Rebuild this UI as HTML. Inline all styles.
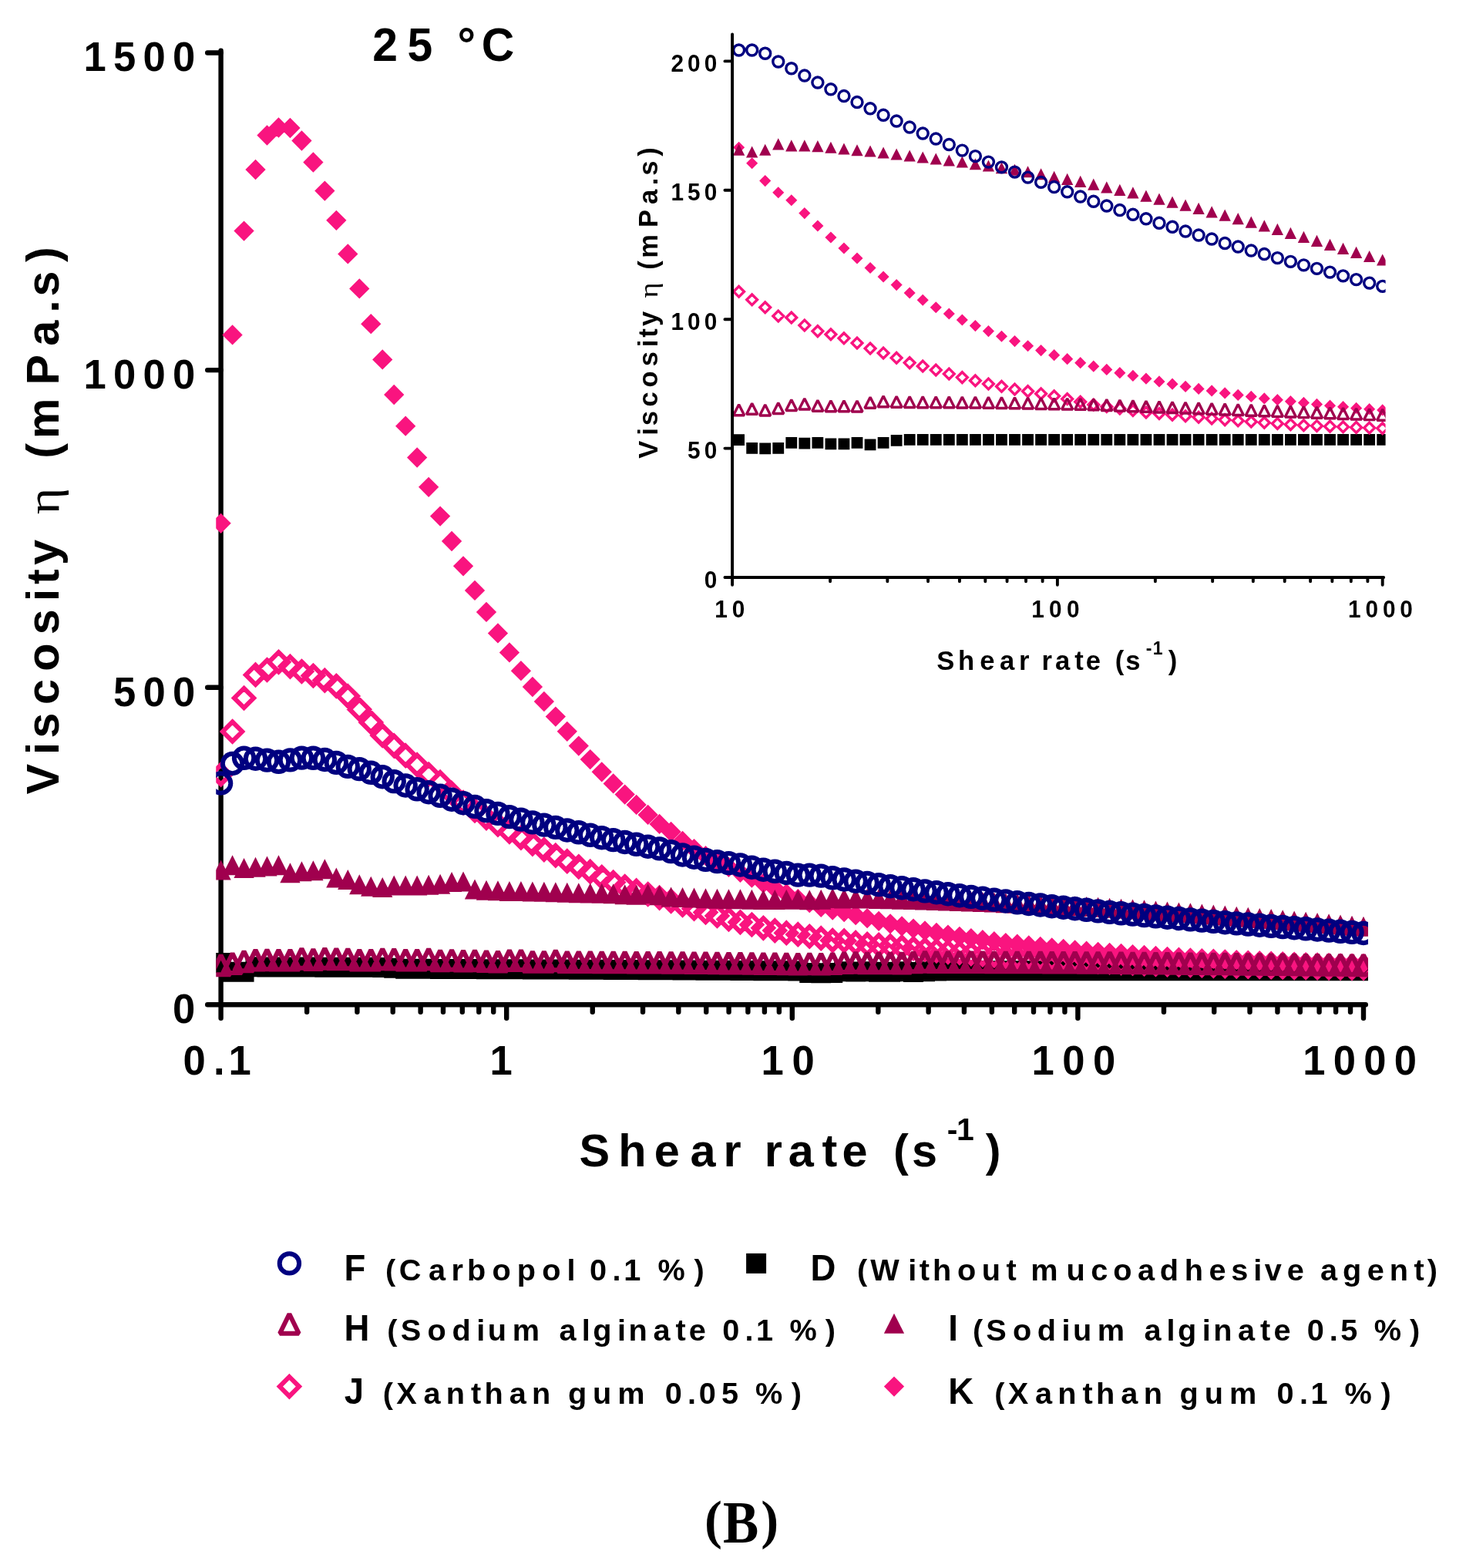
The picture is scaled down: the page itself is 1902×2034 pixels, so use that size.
<!DOCTYPE html>
<html lang="en"><head><meta charset="utf-8"><title>Viscosity vs shear rate (B)</title><style>html,body{margin:0;padding:0;background:#fff}body{width:1902px;height:2034px;overflow:hidden}svg{display:block}</style></head><body>
<svg width="1902" height="2034" viewBox="0 0 1902 2034" role="img" aria-label="Viscosity versus shear rate at 25 degrees C">
<style>text{font-family:"Liberation Sans",sans-serif;font-weight:bold;fill:#000;white-space:pre}.t-serifb{font-family:"Liberation Serif",serif;font-weight:bold}.ax{stroke:#000;fill:none;stroke-linecap:round}</style>
<rect width="1902" height="2034" fill="#fff"/>
<g class="ax" id="main-axes">
<path stroke-width="6.4" d="M286.6 65.7V1320.7"/>
<path stroke-width="6.4" d="M286.6 1303.3H1771.8"/>
<path stroke-width="6.4" d="M398.16 1303.3v9.5M463.42 1303.3v9.5M509.72 1303.3v9.5M545.64 1303.3v9.5M574.98 1303.3v9.5M599.79 1303.3v9.5M621.29 1303.3v9.5M640.24 1303.3v9.5M657.2 1303.3v17.4M768.76 1303.3v9.5M834.02 1303.3v9.5M880.32 1303.3v9.5M916.24 1303.3v9.5M945.58 1303.3v9.5M970.39 1303.3v9.5M991.89 1303.3v9.5M1010.84 1303.3v9.5M1027.8 1303.3v17.4M1139.36 1303.3v9.5M1204.62 1303.3v9.5M1250.92 1303.3v9.5M1286.84 1303.3v9.5M1316.18 1303.3v9.5M1340.99 1303.3v9.5M1362.49 1303.3v9.5M1381.44 1303.3v9.5M1398.4 1303.3v17.4M1509.96 1303.3v9.5M1575.22 1303.3v9.5M1621.52 1303.3v9.5M1657.44 1303.3v9.5M1686.78 1303.3v9.5M1711.59 1303.3v9.5M1733.09 1303.3v9.5M1752.04 1303.3v9.5M1769 1303.3v17.4M286.6 1303.3h-17.4M286.6 891.7h-17.4M286.6 480.1h-17.4M286.6 68.5h-17.4"/>
</g>
<clipPath id="cm"><rect x="280.25" y="0" width="1494.75" height="1306.3"/></clipPath>
<clipPath id="ci"><rect x="946.6" y="0" width="851" height="752"/></clipPath>
<g clip-path="url(#cm)" id="main-data">
<path d="M273.6 1235.89h26v26h-26zM288.57 1247.82h26v26h-26zM303.55 1247.82h26v26h-26zM318.52 1241.32h26v26h-26zM333.49 1241.38h26v26h-26zM348.47 1241.44h26v26h-26zM363.44 1241.5h26v26h-26zM378.42 1241.55h26v26h-26zM393.39 1241.61h26v26h-26zM408.36 1241.67h26v26h-26zM423.34 1241.73h26v26h-26zM438.31 1241.77h26v26h-26zM453.28 1241.81h26v26h-26zM468.26 1241.85h26v26h-26zM483.23 1241.9h26v26h-26zM498.21 1242.8h26v26h-26zM513.18 1243.79h26v26h-26zM528.15 1243.83h26v26h-26zM543.13 1243.87h26v26h-26zM558.1 1243.91h26v26h-26zM573.07 1243.95h26v26h-26zM588.05 1244.02h26v26h-26zM603.02 1244.09h26v26h-26zM618 1244.15h26v26h-26zM632.97 1244.22h26v26h-26zM647.94 1244.28h26v26h-26zM662.92 1244.35h26v26h-26zM677.89 1244.41h26v26h-26zM692.86 1244.48h26v26h-26zM707.84 1244.55h26v26h-26zM722.81 1244.61h26v26h-26zM737.79 1244.69h26v26h-26zM752.76 1244.78h26v26h-26zM767.73 1244.86h26v26h-26zM782.71 1244.94h26v26h-26zM797.68 1245.02h26v26h-26zM812.65 1245.11h26v26h-26zM827.63 1245.19h26v26h-26zM842.6 1245.27h26v26h-26zM857.58 1245.35h26v26h-26zM872.55 1245.44h26v26h-26zM887.52 1245.54h26v26h-26zM902.5 1245.64h26v26h-26zM917.47 1245.74h26v26h-26zM932.44 1245.84h26v26h-26zM947.42 1245.94h26v26h-26zM962.39 1246.04h26v26h-26zM977.37 1246.14h26v26h-26zM992.34 1246.24h26v26h-26zM1007.31 1246.34h26v26h-26zM1022.29 1246.43h26v26h-26zM1037.26 1249.07h26v26h-26zM1052.23 1249.19h26v26h-26zM1067.21 1249.07h26v26h-26zM1082.18 1247.35h26v26h-26zM1097.16 1247.53h26v26h-26zM1112.13 1247.35h26v26h-26zM1127.1 1247.72h26v26h-26zM1142.08 1247.72h26v26h-26zM1157.05 1247.35h26v26h-26zM1172.02 1247.96h26v26h-26zM1187 1247.35h26v26h-26zM1201.97 1246.61h26v26h-26zM1216.95 1246.36h26v26h-26zM1231.92 1246.36h26v26h-26zM1246.89 1246.36h26v26h-26zM1261.87 1246.36h26v26h-26zM1276.84 1246.36h26v26h-26zM1291.81 1246.36h26v26h-26zM1306.79 1246.36h26v26h-26zM1321.76 1246.36h26v26h-26zM1336.74 1246.36h26v26h-26zM1351.71 1246.36h26v26h-26zM1366.68 1246.36h26v26h-26zM1381.66 1246.36h26v26h-26zM1396.63 1246.36h26v26h-26zM1411.6 1246.36h26v26h-26zM1426.58 1246.36h26v26h-26zM1441.55 1246.36h26v26h-26zM1456.53 1246.36h26v26h-26zM1471.5 1246.36h26v26h-26zM1486.47 1246.36h26v26h-26zM1501.45 1246.36h26v26h-26zM1516.42 1246.36h26v26h-26zM1531.39 1246.36h26v26h-26zM1546.37 1246.36h26v26h-26zM1561.34 1246.36h26v26h-26zM1576.32 1246.36h26v26h-26zM1591.29 1246.36h26v26h-26zM1606.26 1246.36h26v26h-26zM1621.24 1246.36h26v26h-26zM1636.21 1246.36h26v26h-26zM1651.18 1246.36h26v26h-26zM1666.16 1246.36h26v26h-26zM1681.13 1246.36h26v26h-26zM1696.11 1246.36h26v26h-26zM1711.08 1246.36h26v26h-26zM1726.05 1246.36h26v26h-26zM1741.03 1246.36h26v26h-26zM1756 1246.36h26v26h-26z" fill="#000000"/>
<path d="M286.6 992.1l12.6 12.6l-12.6 12.6l-12.6 -12.6zM301.57 936.4l12.6 12.6l-12.6 12.6l-12.6 -12.6zM316.55 892.9l12.6 12.6l-12.6 12.6l-12.6 -12.6zM331.52 862.8l12.6 12.6l-12.6 12.6l-12.6 -12.6zM346.49 856.4l12.6 12.6l-12.6 12.6l-12.6 -12.6zM361.47 846.2l12.6 12.6l-12.6 12.6l-12.6 -12.6zM376.44 852l12.6 12.6l-12.6 12.6l-12.6 -12.6zM391.42 858.4l12.6 12.6l-12.6 12.6l-12.6 -12.6zM406.39 863.9l12.6 12.6l-12.6 12.6l-12.6 -12.6zM421.36 870l12.6 12.6l-12.6 12.6l-12.6 -12.6zM436.34 877.2l12.6 12.6l-12.6 12.6l-12.6 -12.6zM451.31 890.5l12.6 12.6l-12.6 12.6l-12.6 -12.6zM466.28 907.6l12.6 12.6l-12.6 12.6l-12.6 -12.6zM481.26 924.3l12.6 12.6l-12.6 12.6l-12.6 -12.6zM496.23 941.3l12.6 12.6l-12.6 12.6l-12.6 -12.6zM511.21 954.7l12.6 12.6l-12.6 12.6l-12.6 -12.6zM526.18 967.6l12.6 12.6l-12.6 12.6l-12.6 -12.6zM541.15 979.5l12.6 12.6l-12.6 12.6l-12.6 -12.6zM556.13 991.9l12.6 12.6l-12.6 12.6l-12.6 -12.6zM571.1 1002.1l12.6 12.6l-12.6 12.6l-12.6 -12.6zM586.07 1016.4l12.6 12.6l-12.6 12.6l-12.6 -12.6zM601.05 1028.6l12.6 12.6l-12.6 12.6l-12.6 -12.6zM616.02 1038.8l12.6 12.6l-12.6 12.6l-12.6 -12.6zM631 1048.5l12.6 12.6l-12.6 12.6l-12.6 -12.6zM645.97 1057.1l12.6 12.6l-12.6 12.6l-12.6 -12.6zM660.94 1066.4l12.6 12.6l-12.6 12.6l-12.6 -12.6zM675.92 1074.1l12.6 12.6l-12.6 12.6l-12.6 -12.6zM690.89 1082l12.6 12.6l-12.6 12.6l-12.6 -12.6zM705.86 1089.5l12.6 12.6l-12.6 12.6l-12.6 -12.6zM720.84 1097l12.6 12.6l-12.6 12.6l-12.6 -12.6zM735.81 1104.6l12.6 12.6l-12.6 12.6l-12.6 -12.6zM750.79 1111.7l12.6 12.6l-12.6 12.6l-12.6 -12.6zM765.76 1118.1l12.6 12.6l-12.6 12.6l-12.6 -12.6zM780.73 1125.2l12.6 12.6l-12.6 12.6l-12.6 -12.6zM795.71 1132l12.6 12.6l-12.6 12.6l-12.6 -12.6zM810.68 1137.4l12.6 12.6l-12.6 12.6l-12.6 -12.6zM825.65 1142.8l12.6 12.6l-12.6 12.6l-12.6 -12.6zM840.63 1147.4l12.6 12.6l-12.6 12.6l-12.6 -12.6zM855.6 1152l12.6 12.6l-12.6 12.6l-12.6 -12.6zM870.58 1156.4l12.6 12.6l-12.6 12.6l-12.6 -12.6zM885.55 1161.3l12.6 12.6l-12.6 12.6l-12.6 -12.6zM900.52 1166.1l12.6 12.6l-12.6 12.6l-12.6 -12.6zM915.5 1170.9l12.6 12.6l-12.6 12.6l-12.6 -12.6zM930.47 1175.4l12.6 12.6l-12.6 12.6l-12.6 -12.6zM945.44 1179.9l12.6 12.6l-12.6 12.6l-12.6 -12.6zM960.42 1183.7l12.6 12.6l-12.6 12.6l-12.6 -12.6zM975.39 1186.9l12.6 12.6l-12.6 12.6l-12.6 -12.6zM990.37 1191.2l12.6 12.6l-12.6 12.6l-12.6 -12.6zM1005.34 1194.5l12.6 12.6l-12.6 12.6l-12.6 -12.6zM1020.31 1197.6l12.6 12.6l-12.6 12.6l-12.6 -12.6zM1035.29 1199.55l12.6 12.6l-12.6 12.6l-12.6 -12.6zM1050.26 1202.13l12.6 12.6l-12.6 12.6l-12.6 -12.6zM1065.23 1204.59l12.6 12.6l-12.6 12.6l-12.6 -12.6zM1080.21 1207.35l12.6 12.6l-12.6 12.6l-12.6 -12.6zM1095.18 1207.84l12.6 12.6l-12.6 12.6l-12.6 -12.6zM1110.16 1210.3l12.6 12.6l-12.6 12.6l-12.6 -12.6zM1125.13 1212.17l12.6 12.6l-12.6 12.6l-12.6 -12.6zM1140.1 1213.2l12.6 12.6l-12.6 12.6l-12.6 -12.6zM1155.08 1214.43l12.6 12.6l-12.6 12.6l-12.6 -12.6zM1170.05 1215.95l12.6 12.6l-12.6 12.6l-12.6 -12.6zM1185.02 1217.67l12.6 12.6l-12.6 12.6l-12.6 -12.6zM1200 1219.15l12.6 12.6l-12.6 12.6l-12.6 -12.6zM1214.97 1220.7l12.6 12.6l-12.6 12.6l-12.6 -12.6zM1229.95 1222.25l12.6 12.6l-12.6 12.6l-12.6 -12.6zM1244.92 1223.33l12.6 12.6l-12.6 12.6l-12.6 -12.6zM1259.89 1224.56l12.6 12.6l-12.6 12.6l-12.6 -12.6zM1274.87 1225.79l12.6 12.6l-12.6 12.6l-12.6 -12.6zM1289.84 1226.92l12.6 12.6l-12.6 12.6l-12.6 -12.6zM1304.81 1227.95l12.6 12.6l-12.6 12.6l-12.6 -12.6zM1319.79 1228.98l12.6 12.6l-12.6 12.6l-12.6 -12.6zM1334.76 1229.8l12.6 12.6l-12.6 12.6l-12.6 -12.6zM1349.74 1230.71l12.6 12.6l-12.6 12.6l-12.6 -12.6zM1364.71 1231.35l12.6 12.6l-12.6 12.6l-12.6 -12.6zM1379.68 1232.11l12.6 12.6l-12.6 12.6l-12.6 -12.6zM1394.66 1232.87l12.6 12.6l-12.6 12.6l-12.6 -12.6zM1409.63 1233.79l12.6 12.6l-12.6 12.6l-12.6 -12.6zM1424.6 1234.71l12.6 12.6l-12.6 12.6l-12.6 -12.6zM1439.58 1235.62l12.6 12.6l-12.6 12.6l-12.6 -12.6zM1454.55 1236.24l12.6 12.6l-12.6 12.6l-12.6 -12.6zM1469.53 1236.85l12.6 12.6l-12.6 12.6l-12.6 -12.6zM1484.5 1237.47l12.6 12.6l-12.6 12.6l-12.6 -12.6zM1499.47 1238.08l12.6 12.6l-12.6 12.6l-12.6 -12.6zM1514.45 1238.47l12.6 12.6l-12.6 12.6l-12.6 -12.6zM1529.42 1238.86l12.6 12.6l-12.6 12.6l-12.6 -12.6zM1544.39 1239.24l12.6 12.6l-12.6 12.6l-12.6 -12.6zM1559.37 1239.63l12.6 12.6l-12.6 12.6l-12.6 -12.6zM1574.34 1240.04l12.6 12.6l-12.6 12.6l-12.6 -12.6zM1589.32 1240.44l12.6 12.6l-12.6 12.6l-12.6 -12.6zM1604.29 1240.75l12.6 12.6l-12.6 12.6l-12.6 -12.6zM1619.26 1241.05l12.6 12.6l-12.6 12.6l-12.6 -12.6zM1634.24 1241.35l12.6 12.6l-12.6 12.6l-12.6 -12.6zM1649.21 1241.64l12.6 12.6l-12.6 12.6l-12.6 -12.6zM1664.18 1241.93l12.6 12.6l-12.6 12.6l-12.6 -12.6zM1679.16 1242.21l12.6 12.6l-12.6 12.6l-12.6 -12.6zM1694.13 1242.38l12.6 12.6l-12.6 12.6l-12.6 -12.6zM1709.11 1242.54l12.6 12.6l-12.6 12.6l-12.6 -12.6zM1724.08 1242.7l12.6 12.6l-12.6 12.6l-12.6 -12.6zM1739.05 1242.85l12.6 12.6l-12.6 12.6l-12.6 -12.6zM1754.03 1243l12.6 12.6l-12.6 12.6l-12.6 -12.6zM1769 1243.15l12.6 12.6l-12.6 12.6l-12.6 -12.6z" fill="none" stroke="#F9147F" stroke-width="6" stroke-linejoin="miter"/>
<path d="M286.6 665.65l13.15 13.15l-13.15 13.15l-13.15 -13.15zM301.57 421.25l13.15 13.15l-13.15 13.15l-13.15 -13.15zM316.55 286.45l13.15 13.15l-13.15 13.15l-13.15 -13.15zM331.52 206.85l13.15 13.15l-13.15 13.15l-13.15 -13.15zM346.49 162.35l13.15 13.15l-13.15 13.15l-13.15 -13.15zM361.47 152.35l13.15 13.15l-13.15 13.15l-13.15 -13.15zM376.44 152.85l13.15 13.15l-13.15 13.15l-13.15 -13.15zM391.42 169.35l13.15 13.15l-13.15 13.15l-13.15 -13.15zM406.39 197.35l13.15 13.15l-13.15 13.15l-13.15 -13.15zM421.36 234.45l13.15 13.15l-13.15 13.15l-13.15 -13.15zM436.34 272.65l13.15 13.15l-13.15 13.15l-13.15 -13.15zM451.31 316.25l13.15 13.15l-13.15 13.15l-13.15 -13.15zM466.28 361.25l13.15 13.15l-13.15 13.15l-13.15 -13.15zM481.26 407.05l13.15 13.15l-13.15 13.15l-13.15 -13.15zM496.23 453.25l13.15 13.15l-13.15 13.15l-13.15 -13.15zM511.21 498.85l13.15 13.15l-13.15 13.15l-13.15 -13.15zM526.18 539.55l13.15 13.15l-13.15 13.15l-13.15 -13.15zM541.15 580.35l13.15 13.15l-13.15 13.15l-13.15 -13.15zM556.13 618.65l13.15 13.15l-13.15 13.15l-13.15 -13.15zM571.1 656.45l13.15 13.15l-13.15 13.15l-13.15 -13.15zM586.07 688.85l13.15 13.15l-13.15 13.15l-13.15 -13.15zM601.05 721.15l13.15 13.15l-13.15 13.15l-13.15 -13.15zM616.02 752.75l13.15 13.15l-13.15 13.15l-13.15 -13.15zM631 780.75l13.15 13.15l-13.15 13.15l-13.15 -13.15zM645.97 808.25l13.15 13.15l-13.15 13.15l-13.15 -13.15zM660.94 833.25l13.15 13.15l-13.15 13.15l-13.15 -13.15zM675.92 857.05l13.15 13.15l-13.15 13.15l-13.15 -13.15zM690.89 877.85l13.15 13.15l-13.15 13.15l-13.15 -13.15zM705.86 896.85l13.15 13.15l-13.15 13.15l-13.15 -13.15zM720.84 916.45l13.15 13.15l-13.15 13.15l-13.15 -13.15zM735.81 935.65l13.15 13.15l-13.15 13.15l-13.15 -13.15zM750.79 954.45l13.15 13.15l-13.15 13.15l-13.15 -13.15zM765.76 971.95l13.15 13.15l-13.15 13.15l-13.15 -13.15zM780.73 988.15l13.15 13.15l-13.15 13.15l-13.15 -13.15zM795.71 1003.25l13.15 13.15l-13.15 13.15l-13.15 -13.15zM810.68 1017.45l13.15 13.15l-13.15 13.15l-13.15 -13.15zM825.65 1030.75l13.15 13.15l-13.15 13.15l-13.15 -13.15zM840.63 1043.75l13.15 13.15l-13.15 13.15l-13.15 -13.15zM855.6 1055.75l13.15 13.15l-13.15 13.15l-13.15 -13.15zM870.58 1065.85l13.15 13.15l-13.15 13.15l-13.15 -13.15zM885.55 1077.75l13.15 13.15l-13.15 13.15l-13.15 -13.15zM900.52 1087.95l13.15 13.15l-13.15 13.15l-13.15 -13.15zM915.5 1097.05l13.15 13.15l-13.15 13.15l-13.15 -13.15zM930.47 1104.35l13.15 13.15l-13.15 13.15l-13.15 -13.15zM945.44 1111.65l13.15 13.15l-13.15 13.15l-13.15 -13.15zM960.42 1118.65l13.15 13.15l-13.15 13.15l-13.15 -13.15zM975.39 1125.55l13.15 13.15l-13.15 13.15l-13.15 -13.15zM990.37 1132.45l13.15 13.15l-13.15 13.15l-13.15 -13.15zM1005.34 1139.35l13.15 13.15l-13.15 13.15l-13.15 -13.15zM1020.31 1146.15l13.15 13.15l-13.15 13.15l-13.15 -13.15zM1035.29 1153.02l13.15 13.15l-13.15 13.15l-13.15 -13.15zM1050.26 1158.06l13.15 13.15l-13.15 13.15l-13.15 -13.15zM1065.23 1163.67l13.15 13.15l-13.15 13.15l-13.15 -13.15zM1080.21 1167.38l13.15 13.15l-13.15 13.15l-13.15 -13.15zM1095.18 1169.87l13.15 13.15l-13.15 13.15l-13.15 -13.15zM1110.16 1174l13.15 13.15l-13.15 13.15l-13.15 -13.15zM1125.13 1178.03l13.15 13.15l-13.15 13.15l-13.15 -13.15zM1140.1 1181.72l13.15 13.15l-13.15 13.15l-13.15 -13.15zM1155.08 1185.16l13.15 13.15l-13.15 13.15l-13.15 -13.15zM1170.05 1188.36l13.15 13.15l-13.15 13.15l-13.15 -13.15zM1185.02 1191.43l13.15 13.15l-13.15 13.15l-13.15 -13.15zM1200 1194.26l13.15 13.15l-13.15 13.15l-13.15 -13.15zM1214.97 1196.86l13.15 13.15l-13.15 13.15l-13.15 -13.15zM1229.95 1199.42l13.15 13.15l-13.15 13.15l-13.15 -13.15zM1244.92 1201.71l13.15 13.15l-13.15 13.15l-13.15 -13.15zM1259.89 1204.04l13.15 13.15l-13.15 13.15l-13.15 -13.15zM1274.87 1206.06l13.15 13.15l-13.15 13.15l-13.15 -13.15zM1289.84 1208.03l13.15 13.15l-13.15 13.15l-13.15 -13.15zM1304.81 1209.9l13.15 13.15l-13.15 13.15l-13.15 -13.15zM1319.79 1211.62l13.15 13.15l-13.15 13.15l-13.15 -13.15zM1334.76 1213.26l13.15 13.15l-13.15 13.15l-13.15 -13.15zM1349.74 1214.81l13.15 13.15l-13.15 13.15l-13.15 -13.15zM1364.71 1216.34l13.15 13.15l-13.15 13.15l-13.15 -13.15zM1379.68 1217.76l13.15 13.15l-13.15 13.15l-13.15 -13.15zM1394.66 1219.25l13.15 13.15l-13.15 13.15l-13.15 -13.15zM1409.63 1220.48l13.15 13.15l-13.15 13.15l-13.15 -13.15zM1424.6 1221.71l13.15 13.15l-13.15 13.15l-13.15 -13.15zM1439.58 1222.81l13.15 13.15l-13.15 13.15l-13.15 -13.15zM1454.55 1223.86l13.15 13.15l-13.15 13.15l-13.15 -13.15zM1469.53 1224.9l13.15 13.15l-13.15 13.15l-13.15 -13.15zM1484.5 1225.83l13.15 13.15l-13.15 13.15l-13.15 -13.15zM1499.47 1226.75l13.15 13.15l-13.15 13.15l-13.15 -13.15zM1514.45 1227.67l13.15 13.15l-13.15 13.15l-13.15 -13.15zM1529.42 1228.47l13.15 13.15l-13.15 13.15l-13.15 -13.15zM1544.39 1229.27l13.15 13.15l-13.15 13.15l-13.15 -13.15zM1559.37 1230.01l13.15 13.15l-13.15 13.15l-13.15 -13.15zM1574.34 1230.62l13.15 13.15l-13.15 13.15l-13.15 -13.15zM1589.32 1231.36l13.15 13.15l-13.15 13.15l-13.15 -13.15zM1604.29 1231.98l13.15 13.15l-13.15 13.15l-13.15 -13.15zM1619.26 1232.47l13.15 13.15l-13.15 13.15l-13.15 -13.15zM1634.24 1233.08l13.15 13.15l-13.15 13.15l-13.15 -13.15zM1649.21 1233.51l13.15 13.15l-13.15 13.15l-13.15 -13.15zM1664.18 1234.01l13.15 13.15l-13.15 13.15l-13.15 -13.15zM1679.16 1234.44l13.15 13.15l-13.15 13.15l-13.15 -13.15zM1694.13 1234.93l13.15 13.15l-13.15 13.15l-13.15 -13.15zM1709.11 1235.36l13.15 13.15l-13.15 13.15l-13.15 -13.15zM1724.08 1235.73l13.15 13.15l-13.15 13.15l-13.15 -13.15zM1739.05 1236.16l13.15 13.15l-13.15 13.15l-13.15 -13.15zM1754.03 1236.47l13.15 13.15l-13.15 13.15l-13.15 -13.15zM1769 1236.77l13.15 13.15l-13.15 13.15l-13.15 -13.15z" fill="#F9147F"/>
<path d="M286.6 1239l12.35 25.2h-24.7zM301.57 1236.78l12.35 25.2h-24.7zM316.55 1234.06l12.35 25.2h-24.7zM331.52 1232.34l12.35 25.2h-24.7zM346.49 1232.09l12.35 25.2h-24.7zM361.47 1232.34l12.35 25.2h-24.7zM376.44 1232.34l12.35 25.2h-24.7zM391.42 1230.61l12.35 25.2h-24.7zM406.39 1231.68l12.35 25.2h-24.7zM421.36 1230.44l12.35 25.2h-24.7zM436.34 1230.94l12.35 25.2h-24.7zM451.31 1231.02l12.35 25.2h-24.7zM466.28 1232.42l12.35 25.2h-24.7zM481.26 1232.42l12.35 25.2h-24.7zM496.23 1231.02l12.35 25.2h-24.7zM511.21 1231.26l12.35 25.2h-24.7zM526.18 1232.42l12.35 25.2h-24.7zM541.15 1232.34l12.35 25.2h-24.7zM556.13 1231.1l12.35 25.2h-24.7zM571.1 1232.99l12.35 25.2h-24.7zM586.07 1232.66l12.35 25.2h-24.7zM601.05 1233.41l12.35 25.2h-24.7zM616.02 1233.08l12.35 25.2h-24.7zM631 1233.73l12.35 25.2h-24.7zM645.97 1234.39l12.35 25.2h-24.7zM660.94 1232.91l12.35 25.2h-24.7zM675.92 1232.91l12.35 25.2h-24.7zM690.89 1234.56l12.35 25.2h-24.7zM705.86 1234.56l12.35 25.2h-24.7zM720.84 1233.08l12.35 25.2h-24.7zM735.81 1234.72l12.35 25.2h-24.7zM750.79 1234.8l12.35 25.2h-24.7zM765.76 1234.89l12.35 25.2h-24.7zM780.73 1234.97l12.35 25.2h-24.7zM795.71 1235.05l12.35 25.2h-24.7zM810.68 1235.13l12.35 25.2h-24.7zM825.65 1235.22l12.35 25.2h-24.7zM840.63 1235.3l12.35 25.2h-24.7zM855.6 1235.38l12.35 25.2h-24.7zM870.58 1235.46l12.35 25.2h-24.7zM885.55 1235.55l12.35 25.2h-24.7zM900.52 1235.71l12.35 25.2h-24.7zM915.5 1235.87l12.35 25.2h-24.7zM930.47 1236.04l12.35 25.2h-24.7zM945.44 1236.2l12.35 25.2h-24.7zM960.42 1236.37l12.35 25.2h-24.7zM975.39 1236.53l12.35 25.2h-24.7zM990.37 1236.7l12.35 25.2h-24.7zM1005.34 1236.86l12.35 25.2h-24.7zM1020.31 1237.03l12.35 25.2h-24.7zM1035.29 1237.35l12.35 25.2h-24.7zM1050.26 1236.99l12.35 25.2h-24.7zM1065.23 1237.42l12.35 25.2h-24.7zM1080.21 1236.8l12.35 25.2h-24.7zM1095.18 1235.82l12.35 25.2h-24.7zM1110.16 1235.45l12.35 25.2h-24.7zM1125.13 1236l12.35 25.2h-24.7zM1140.1 1236.12l12.35 25.2h-24.7zM1155.08 1236.12l12.35 25.2h-24.7zM1170.05 1236.19l12.35 25.2h-24.7zM1185.02 1235.02l12.35 25.2h-24.7zM1200 1234.65l12.35 25.2h-24.7zM1214.97 1234.77l12.35 25.2h-24.7zM1229.95 1234.83l12.35 25.2h-24.7zM1244.92 1234.86l12.35 25.2h-24.7zM1259.89 1234.89l12.35 25.2h-24.7zM1274.87 1234.89l12.35 25.2h-24.7zM1289.84 1234.96l12.35 25.2h-24.7zM1304.81 1234.96l12.35 25.2h-24.7zM1319.79 1235.02l12.35 25.2h-24.7zM1334.76 1235.08l12.35 25.2h-24.7zM1349.74 1235.14l12.35 25.2h-24.7zM1364.71 1235.2l12.35 25.2h-24.7zM1379.68 1235.33l12.35 25.2h-24.7zM1394.66 1235.39l12.35 25.2h-24.7zM1409.63 1235.45l12.35 25.2h-24.7zM1424.6 1235.51l12.35 25.2h-24.7zM1439.58 1235.66l12.35 25.2h-24.7zM1454.55 1235.81l12.35 25.2h-24.7zM1469.53 1235.96l12.35 25.2h-24.7zM1484.5 1236.11l12.35 25.2h-24.7zM1499.47 1236.26l12.35 25.2h-24.7zM1514.45 1236.41l12.35 25.2h-24.7zM1529.42 1236.55l12.35 25.2h-24.7zM1544.39 1236.7l12.35 25.2h-24.7zM1559.37 1236.85l12.35 25.2h-24.7zM1574.34 1237l12.35 25.2h-24.7zM1589.32 1237.15l12.35 25.2h-24.7zM1604.29 1237.3l12.35 25.2h-24.7zM1619.26 1237.45l12.35 25.2h-24.7zM1634.24 1237.6l12.35 25.2h-24.7zM1649.21 1237.75l12.35 25.2h-24.7zM1664.18 1237.9l12.35 25.2h-24.7zM1679.16 1238.05l12.35 25.2h-24.7zM1694.13 1238.2l12.35 25.2h-24.7zM1709.11 1238.35l12.35 25.2h-24.7zM1724.08 1238.49l12.35 25.2h-24.7zM1739.05 1238.64l12.35 25.2h-24.7zM1754.03 1238.79l12.35 25.2h-24.7zM1769 1238.94l12.35 25.2h-24.7z" fill="none" stroke="#A0004E" stroke-width="6" stroke-linejoin="bevel"/>
<path d="M286.6 1115.59l13.15 26h-26.3zM301.57 1109.34l13.15 26h-26.3zM316.55 1113.09l13.15 26h-26.3zM331.52 1111.84l13.15 26h-26.3zM346.49 1110.59l13.15 26h-26.3zM361.47 1109.34l13.15 26h-26.3zM376.44 1119.34l13.15 26h-26.3zM391.42 1117.34l13.15 26h-26.3zM406.39 1116.34l13.15 26h-26.3zM421.36 1114.34l13.15 26h-26.3zM436.34 1125.59l13.15 26h-26.3zM451.31 1128.1l13.15 26h-26.3zM466.28 1134.35l13.15 26h-26.3zM481.26 1136.85l13.15 26h-26.3zM496.23 1138.1l13.15 26h-26.3zM511.21 1135.6l13.15 26h-26.3zM526.18 1135.6l13.15 26h-26.3zM541.15 1135.6l13.15 26h-26.3zM556.13 1134.85l13.15 26h-26.3zM571.1 1133.85l13.15 26h-26.3zM586.07 1131.1l13.15 26h-26.3zM601.05 1130.6l13.15 26h-26.3zM616.02 1140.6l13.15 26h-26.3zM631 1141.85l13.15 26h-26.3zM645.97 1142.35l13.15 26h-26.3zM660.94 1143.1l13.15 26h-26.3zM675.92 1143.1l13.15 26h-26.3zM690.89 1143.6l13.15 26h-26.3zM705.86 1143.85l13.15 26h-26.3zM720.84 1144.35l13.15 26h-26.3zM735.81 1144.85l13.15 26h-26.3zM750.79 1145.15l13.15 26h-26.3zM765.76 1145.45l13.15 26h-26.3zM780.73 1145.75l13.15 26h-26.3zM795.71 1146.25l13.15 26h-26.3zM810.68 1147.25l13.15 26h-26.3zM825.65 1147.85l13.15 26h-26.3zM840.63 1146.25l13.15 26h-26.3zM855.6 1148.35l13.15 26h-26.3zM870.58 1150.55l13.15 26h-26.3zM885.55 1151.05l13.15 26h-26.3zM900.52 1151.55l13.15 26h-26.3zM915.5 1152.15l13.15 26h-26.3zM930.47 1152.65l13.15 26h-26.3zM945.44 1153.25l13.15 26h-26.3zM960.42 1153.25l13.15 26h-26.3zM975.39 1153.75l13.15 26h-26.3zM990.37 1153.95l13.15 26h-26.3zM1005.34 1153.95l13.15 26h-26.3zM1020.31 1153.75l13.15 26h-26.3zM1035.29 1153.67l13.15 26h-26.3zM1050.26 1154.34l13.15 26h-26.3zM1065.23 1153.67l13.15 26h-26.3zM1080.21 1151.88l13.15 26h-26.3zM1095.18 1152.38l13.15 26h-26.3zM1110.16 1152.38l13.15 26h-26.3zM1125.13 1152.56l13.15 26h-26.3zM1140.1 1152.93l13.15 26h-26.3zM1155.08 1153.36l13.15 26h-26.3zM1170.05 1153.79l13.15 26h-26.3zM1185.02 1154.1l13.15 26h-26.3zM1200 1154.59l13.15 26h-26.3zM1214.97 1155.08l13.15 26h-26.3zM1229.95 1155.57l13.15 26h-26.3zM1244.92 1156.07l13.15 26h-26.3zM1259.89 1156.56l13.15 26h-26.3zM1274.87 1157.05l13.15 26h-26.3zM1289.84 1157.54l13.15 26h-26.3zM1304.81 1158.22l13.15 26h-26.3zM1319.79 1158.77l13.15 26h-26.3zM1334.76 1159.45l13.15 26h-26.3zM1349.74 1160.06l13.15 26h-26.3zM1364.71 1160.68l13.15 26h-26.3zM1379.68 1161.42l13.15 26h-26.3zM1394.66 1162.32l13.15 26h-26.3zM1409.63 1163.06l13.15 26h-26.3zM1424.6 1163.8l13.15 26h-26.3zM1439.58 1164.72l13.15 26h-26.3zM1454.55 1165.64l13.15 26h-26.3zM1469.53 1166.5l13.15 26h-26.3zM1484.5 1167.37l13.15 26h-26.3zM1499.47 1168.41l13.15 26h-26.3zM1514.45 1169.39l13.15 26h-26.3zM1529.42 1170.38l13.15 26h-26.3zM1544.39 1171.36l13.15 26h-26.3zM1559.37 1172.41l13.15 26h-26.3zM1574.34 1173.52l13.15 26h-26.3zM1589.32 1174.56l13.15 26h-26.3zM1604.29 1175.67l13.15 26h-26.3zM1619.26 1176.77l13.15 26h-26.3zM1634.24 1177.94l13.15 26h-26.3zM1649.21 1179.05l13.15 26h-26.3zM1664.18 1180.28l13.15 26h-26.3zM1679.16 1181.51l13.15 26h-26.3zM1694.13 1182.74l13.15 26h-26.3zM1709.11 1183.97l13.15 26h-26.3zM1724.08 1185.2l13.15 26h-26.3zM1739.05 1186.43l13.15 26h-26.3zM1754.03 1187.66l13.15 26h-26.3zM1769 1188.77l13.15 26h-26.3z" fill="#A0004E"/>
<path d="M273.9 1016a12.7 12.7 0 1 0 25.4 0a12.7 12.7 0 1 0 -25.4 0zM288.87 990.5a12.7 12.7 0 1 0 25.4 0a12.7 12.7 0 1 0 -25.4 0zM303.85 983.3a12.7 12.7 0 1 0 25.4 0a12.7 12.7 0 1 0 -25.4 0zM318.82 984.2a12.7 12.7 0 1 0 25.4 0a12.7 12.7 0 1 0 -25.4 0zM333.79 986.1a12.7 12.7 0 1 0 25.4 0a12.7 12.7 0 1 0 -25.4 0zM348.77 988.3a12.7 12.7 0 1 0 25.4 0a12.7 12.7 0 1 0 -25.4 0zM363.74 985.9a12.7 12.7 0 1 0 25.4 0a12.7 12.7 0 1 0 -25.4 0zM378.72 983.1a12.7 12.7 0 1 0 25.4 0a12.7 12.7 0 1 0 -25.4 0zM393.69 983.3a12.7 12.7 0 1 0 25.4 0a12.7 12.7 0 1 0 -25.4 0zM408.66 985.5a12.7 12.7 0 1 0 25.4 0a12.7 12.7 0 1 0 -25.4 0zM423.64 989.4a12.7 12.7 0 1 0 25.4 0a12.7 12.7 0 1 0 -25.4 0zM438.61 994.4a12.7 12.7 0 1 0 25.4 0a12.7 12.7 0 1 0 -25.4 0zM453.58 997.6a12.7 12.7 0 1 0 25.4 0a12.7 12.7 0 1 0 -25.4 0zM468.56 1002.3a12.7 12.7 0 1 0 25.4 0a12.7 12.7 0 1 0 -25.4 0zM483.53 1007.7a12.7 12.7 0 1 0 25.4 0a12.7 12.7 0 1 0 -25.4 0zM498.51 1013.6a12.7 12.7 0 1 0 25.4 0a12.7 12.7 0 1 0 -25.4 0zM513.48 1019a12.7 12.7 0 1 0 25.4 0a12.7 12.7 0 1 0 -25.4 0zM528.45 1023.8a12.7 12.7 0 1 0 25.4 0a12.7 12.7 0 1 0 -25.4 0zM543.43 1027.7a12.7 12.7 0 1 0 25.4 0a12.7 12.7 0 1 0 -25.4 0zM558.4 1032.3a12.7 12.7 0 1 0 25.4 0a12.7 12.7 0 1 0 -25.4 0zM573.37 1037.2a12.7 12.7 0 1 0 25.4 0a12.7 12.7 0 1 0 -25.4 0zM588.35 1041.7a12.7 12.7 0 1 0 25.4 0a12.7 12.7 0 1 0 -25.4 0zM603.32 1046.4a12.7 12.7 0 1 0 25.4 0a12.7 12.7 0 1 0 -25.4 0zM618.3 1051.6a12.7 12.7 0 1 0 25.4 0a12.7 12.7 0 1 0 -25.4 0zM633.27 1055.4a12.7 12.7 0 1 0 25.4 0a12.7 12.7 0 1 0 -25.4 0zM648.24 1059.6a12.7 12.7 0 1 0 25.4 0a12.7 12.7 0 1 0 -25.4 0zM663.22 1063.1a12.7 12.7 0 1 0 25.4 0a12.7 12.7 0 1 0 -25.4 0zM678.19 1066.9a12.7 12.7 0 1 0 25.4 0a12.7 12.7 0 1 0 -25.4 0zM693.16 1070.1a12.7 12.7 0 1 0 25.4 0a12.7 12.7 0 1 0 -25.4 0zM708.14 1073.4a12.7 12.7 0 1 0 25.4 0a12.7 12.7 0 1 0 -25.4 0zM723.11 1077a12.7 12.7 0 1 0 25.4 0a12.7 12.7 0 1 0 -25.4 0zM738.09 1079.8a12.7 12.7 0 1 0 25.4 0a12.7 12.7 0 1 0 -25.4 0zM753.06 1083.3a12.7 12.7 0 1 0 25.4 0a12.7 12.7 0 1 0 -25.4 0zM768.03 1086.7a12.7 12.7 0 1 0 25.4 0a12.7 12.7 0 1 0 -25.4 0zM783.01 1089.6a12.7 12.7 0 1 0 25.4 0a12.7 12.7 0 1 0 -25.4 0zM797.98 1092.5a12.7 12.7 0 1 0 25.4 0a12.7 12.7 0 1 0 -25.4 0zM812.95 1095.3a12.7 12.7 0 1 0 25.4 0a12.7 12.7 0 1 0 -25.4 0zM827.93 1098.2a12.7 12.7 0 1 0 25.4 0a12.7 12.7 0 1 0 -25.4 0zM842.9 1100.9a12.7 12.7 0 1 0 25.4 0a12.7 12.7 0 1 0 -25.4 0zM857.88 1104.6a12.7 12.7 0 1 0 25.4 0a12.7 12.7 0 1 0 -25.4 0zM872.85 1109a12.7 12.7 0 1 0 25.4 0a12.7 12.7 0 1 0 -25.4 0zM887.82 1112.2a12.7 12.7 0 1 0 25.4 0a12.7 12.7 0 1 0 -25.4 0zM902.8 1115.4a12.7 12.7 0 1 0 25.4 0a12.7 12.7 0 1 0 -25.4 0zM917.77 1117.6a12.7 12.7 0 1 0 25.4 0a12.7 12.7 0 1 0 -25.4 0zM932.74 1119.6a12.7 12.7 0 1 0 25.4 0a12.7 12.7 0 1 0 -25.4 0zM947.72 1122a12.7 12.7 0 1 0 25.4 0a12.7 12.7 0 1 0 -25.4 0zM962.69 1125.2a12.7 12.7 0 1 0 25.4 0a12.7 12.7 0 1 0 -25.4 0zM977.67 1128.2a12.7 12.7 0 1 0 25.4 0a12.7 12.7 0 1 0 -25.4 0zM992.64 1130.3a12.7 12.7 0 1 0 25.4 0a12.7 12.7 0 1 0 -25.4 0zM1007.61 1132.4a12.7 12.7 0 1 0 25.4 0a12.7 12.7 0 1 0 -25.4 0zM1022.59 1135.12a12.7 12.7 0 1 0 25.4 0a12.7 12.7 0 1 0 -25.4 0zM1037.56 1135.12a12.7 12.7 0 1 0 25.4 0a12.7 12.7 0 1 0 -25.4 0zM1052.53 1136.17a12.7 12.7 0 1 0 25.4 0a12.7 12.7 0 1 0 -25.4 0zM1067.51 1138.81a12.7 12.7 0 1 0 25.4 0a12.7 12.7 0 1 0 -25.4 0zM1082.48 1140.96a12.7 12.7 0 1 0 25.4 0a12.7 12.7 0 1 0 -25.4 0zM1097.46 1143.24a12.7 12.7 0 1 0 25.4 0a12.7 12.7 0 1 0 -25.4 0zM1112.43 1145.45a12.7 12.7 0 1 0 25.4 0a12.7 12.7 0 1 0 -25.4 0zM1127.4 1147.61a12.7 12.7 0 1 0 25.4 0a12.7 12.7 0 1 0 -25.4 0zM1142.38 1149.76a12.7 12.7 0 1 0 25.4 0a12.7 12.7 0 1 0 -25.4 0zM1157.35 1151.73a12.7 12.7 0 1 0 25.4 0a12.7 12.7 0 1 0 -25.4 0zM1172.32 1153.76a12.7 12.7 0 1 0 25.4 0a12.7 12.7 0 1 0 -25.4 0zM1187.3 1155.85a12.7 12.7 0 1 0 25.4 0a12.7 12.7 0 1 0 -25.4 0zM1202.27 1157.75a12.7 12.7 0 1 0 25.4 0a12.7 12.7 0 1 0 -25.4 0zM1217.25 1159.72a12.7 12.7 0 1 0 25.4 0a12.7 12.7 0 1 0 -25.4 0zM1232.22 1161.69a12.7 12.7 0 1 0 25.4 0a12.7 12.7 0 1 0 -25.4 0zM1247.19 1163.41a12.7 12.7 0 1 0 25.4 0a12.7 12.7 0 1 0 -25.4 0zM1262.17 1165.26a12.7 12.7 0 1 0 25.4 0a12.7 12.7 0 1 0 -25.4 0zM1277.14 1167.1a12.7 12.7 0 1 0 25.4 0a12.7 12.7 0 1 0 -25.4 0zM1292.11 1168.95a12.7 12.7 0 1 0 25.4 0a12.7 12.7 0 1 0 -25.4 0zM1307.09 1170.79a12.7 12.7 0 1 0 25.4 0a12.7 12.7 0 1 0 -25.4 0zM1322.06 1172.45a12.7 12.7 0 1 0 25.4 0a12.7 12.7 0 1 0 -25.4 0zM1337.04 1173.99a12.7 12.7 0 1 0 25.4 0a12.7 12.7 0 1 0 -25.4 0zM1352.01 1175.71a12.7 12.7 0 1 0 25.4 0a12.7 12.7 0 1 0 -25.4 0zM1366.98 1177.25a12.7 12.7 0 1 0 25.4 0a12.7 12.7 0 1 0 -25.4 0zM1381.96 1178.77a12.7 12.7 0 1 0 25.4 0a12.7 12.7 0 1 0 -25.4 0zM1396.93 1180.31a12.7 12.7 0 1 0 25.4 0a12.7 12.7 0 1 0 -25.4 0zM1411.9 1181.85a12.7 12.7 0 1 0 25.4 0a12.7 12.7 0 1 0 -25.4 0zM1426.88 1183.38a12.7 12.7 0 1 0 25.4 0a12.7 12.7 0 1 0 -25.4 0zM1441.85 1184.8a12.7 12.7 0 1 0 25.4 0a12.7 12.7 0 1 0 -25.4 0zM1456.83 1186.15a12.7 12.7 0 1 0 25.4 0a12.7 12.7 0 1 0 -25.4 0zM1471.8 1187.56a12.7 12.7 0 1 0 25.4 0a12.7 12.7 0 1 0 -25.4 0zM1486.77 1188.92a12.7 12.7 0 1 0 25.4 0a12.7 12.7 0 1 0 -25.4 0zM1501.75 1190.27a12.7 12.7 0 1 0 25.4 0a12.7 12.7 0 1 0 -25.4 0zM1516.72 1191.5a12.7 12.7 0 1 0 25.4 0a12.7 12.7 0 1 0 -25.4 0zM1531.69 1192.92a12.7 12.7 0 1 0 25.4 0a12.7 12.7 0 1 0 -25.4 0zM1546.67 1194.15a12.7 12.7 0 1 0 25.4 0a12.7 12.7 0 1 0 -25.4 0zM1561.64 1195.38a12.7 12.7 0 1 0 25.4 0a12.7 12.7 0 1 0 -25.4 0zM1576.62 1196.73a12.7 12.7 0 1 0 25.4 0a12.7 12.7 0 1 0 -25.4 0zM1591.59 1197.84a12.7 12.7 0 1 0 25.4 0a12.7 12.7 0 1 0 -25.4 0zM1606.56 1199.07a12.7 12.7 0 1 0 25.4 0a12.7 12.7 0 1 0 -25.4 0zM1621.54 1200.17a12.7 12.7 0 1 0 25.4 0a12.7 12.7 0 1 0 -25.4 0zM1636.51 1201.4a12.7 12.7 0 1 0 25.4 0a12.7 12.7 0 1 0 -25.4 0zM1651.48 1202.57a12.7 12.7 0 1 0 25.4 0a12.7 12.7 0 1 0 -25.4 0zM1666.46 1203.68a12.7 12.7 0 1 0 25.4 0a12.7 12.7 0 1 0 -25.4 0zM1681.43 1204.79a12.7 12.7 0 1 0 25.4 0a12.7 12.7 0 1 0 -25.4 0zM1696.41 1205.95a12.7 12.7 0 1 0 25.4 0a12.7 12.7 0 1 0 -25.4 0zM1711.38 1207.12a12.7 12.7 0 1 0 25.4 0a12.7 12.7 0 1 0 -25.4 0zM1726.35 1208.29a12.7 12.7 0 1 0 25.4 0a12.7 12.7 0 1 0 -25.4 0zM1741.33 1209.4a12.7 12.7 0 1 0 25.4 0a12.7 12.7 0 1 0 -25.4 0zM1756.3 1210.44a12.7 12.7 0 1 0 25.4 0a12.7 12.7 0 1 0 -25.4 0z" fill="none" stroke="#000080" stroke-width="6"/>
</g>
<g clip-path="url(#ci)" id="inset-data">
<path d="M951.22 563.16h14.8v14.8h-14.8zM968.26 573.92h14.8v14.8h-14.8zM985.31 574.42h14.8v14.8h-14.8zM1002.35 573.92h14.8v14.8h-14.8zM1019.39 566.91h14.8v14.8h-14.8zM1036.43 567.66h14.8v14.8h-14.8zM1053.48 566.91h14.8v14.8h-14.8zM1070.52 568.41h14.8v14.8h-14.8zM1087.56 568.41h14.8v14.8h-14.8zM1104.6 566.91h14.8v14.8h-14.8zM1121.65 569.41h14.8v14.8h-14.8zM1138.69 566.91h14.8v14.8h-14.8zM1155.73 563.91h14.8v14.8h-14.8zM1172.77 562.91h14.8v14.8h-14.8zM1189.82 562.91h14.8v14.8h-14.8zM1206.86 562.91h14.8v14.8h-14.8zM1223.9 562.91h14.8v14.8h-14.8zM1240.94 562.91h14.8v14.8h-14.8zM1257.98 562.91h14.8v14.8h-14.8zM1275.03 562.91h14.8v14.8h-14.8zM1292.07 562.91h14.8v14.8h-14.8zM1309.11 562.91h14.8v14.8h-14.8zM1326.15 562.91h14.8v14.8h-14.8zM1343.2 562.91h14.8v14.8h-14.8zM1360.24 562.91h14.8v14.8h-14.8zM1377.28 562.91h14.8v14.8h-14.8zM1394.32 562.91h14.8v14.8h-14.8zM1411.37 562.91h14.8v14.8h-14.8zM1428.41 562.91h14.8v14.8h-14.8zM1445.45 562.91h14.8v14.8h-14.8zM1462.49 562.91h14.8v14.8h-14.8zM1479.54 562.91h14.8v14.8h-14.8zM1496.58 562.91h14.8v14.8h-14.8zM1513.62 562.91h14.8v14.8h-14.8zM1530.66 562.91h14.8v14.8h-14.8zM1547.71 562.91h14.8v14.8h-14.8zM1564.75 562.91h14.8v14.8h-14.8zM1581.79 562.91h14.8v14.8h-14.8zM1598.83 562.91h14.8v14.8h-14.8zM1615.88 562.91h14.8v14.8h-14.8zM1632.92 562.91h14.8v14.8h-14.8zM1649.96 562.91h14.8v14.8h-14.8zM1667 562.91h14.8v14.8h-14.8zM1684.05 562.91h14.8v14.8h-14.8zM1701.09 562.91h14.8v14.8h-14.8zM1718.13 562.91h14.8v14.8h-14.8zM1735.17 562.91h14.8v14.8h-14.8zM1752.22 562.91h14.8v14.8h-14.8zM1769.26 562.91h14.8v14.8h-14.8zM1786.3 562.91h14.8v14.8h-14.8z" fill="#000000"/>
<path d="M958.62 371.45l6.85 6.85l-6.85 6.85l-6.85 -6.85zM975.66 381.95l6.85 6.85l-6.85 6.85l-6.85 -6.85zM992.71 391.95l6.85 6.85l-6.85 6.85l-6.85 -6.85zM1009.75 403.15l6.85 6.85l-6.85 6.85l-6.85 -6.85zM1026.79 405.15l6.85 6.85l-6.85 6.85l-6.85 -6.85zM1043.83 415.15l6.85 6.85l-6.85 6.85l-6.85 -6.85zM1060.88 422.75l6.85 6.85l-6.85 6.85l-6.85 -6.85zM1077.92 426.95l6.85 6.85l-6.85 6.85l-6.85 -6.85zM1094.96 431.95l6.85 6.85l-6.85 6.85l-6.85 -6.85zM1112 438.15l6.85 6.85l-6.85 6.85l-6.85 -6.85zM1129.05 445.15l6.85 6.85l-6.85 6.85l-6.85 -6.85zM1146.09 451.15l6.85 6.85l-6.85 6.85l-6.85 -6.85zM1163.13 457.45l6.85 6.85l-6.85 6.85l-6.85 -6.85zM1180.17 463.75l6.85 6.85l-6.85 6.85l-6.85 -6.85zM1197.22 468.15l6.85 6.85l-6.85 6.85l-6.85 -6.85zM1214.26 473.15l6.85 6.85l-6.85 6.85l-6.85 -6.85zM1231.3 478.15l6.85 6.85l-6.85 6.85l-6.85 -6.85zM1248.34 482.75l6.85 6.85l-6.85 6.85l-6.85 -6.85zM1265.38 486.95l6.85 6.85l-6.85 6.85l-6.85 -6.85zM1282.43 491.15l6.85 6.85l-6.85 6.85l-6.85 -6.85zM1299.47 494.45l6.85 6.85l-6.85 6.85l-6.85 -6.85zM1316.51 498.15l6.85 6.85l-6.85 6.85l-6.85 -6.85zM1333.55 500.75l6.85 6.85l-6.85 6.85l-6.85 -6.85zM1350.6 503.85l6.85 6.85l-6.85 6.85l-6.85 -6.85zM1367.64 506.95l6.85 6.85l-6.85 6.85l-6.85 -6.85zM1384.68 510.68l6.85 6.85l-6.85 6.85l-6.85 -6.85zM1401.72 514.42l6.85 6.85l-6.85 6.85l-6.85 -6.85zM1418.77 518.15l6.85 6.85l-6.85 6.85l-6.85 -6.85zM1435.81 520.65l6.85 6.85l-6.85 6.85l-6.85 -6.85zM1452.85 523.15l6.85 6.85l-6.85 6.85l-6.85 -6.85zM1469.89 525.65l6.85 6.85l-6.85 6.85l-6.85 -6.85zM1486.94 528.15l6.85 6.85l-6.85 6.85l-6.85 -6.85zM1503.98 529.73l6.85 6.85l-6.85 6.85l-6.85 -6.85zM1521.02 531.3l6.85 6.85l-6.85 6.85l-6.85 -6.85zM1538.06 532.87l6.85 6.85l-6.85 6.85l-6.85 -6.85zM1555.11 534.45l6.85 6.85l-6.85 6.85l-6.85 -6.85zM1572.15 536.1l6.85 6.85l-6.85 6.85l-6.85 -6.85zM1589.19 537.75l6.85 6.85l-6.85 6.85l-6.85 -6.85zM1606.23 538.98l6.85 6.85l-6.85 6.85l-6.85 -6.85zM1623.28 540.22l6.85 6.85l-6.85 6.85l-6.85 -6.85zM1640.32 541.45l6.85 6.85l-6.85 6.85l-6.85 -6.85zM1657.36 542.62l6.85 6.85l-6.85 6.85l-6.85 -6.85zM1674.4 543.78l6.85 6.85l-6.85 6.85l-6.85 -6.85zM1691.45 544.95l6.85 6.85l-6.85 6.85l-6.85 -6.85zM1708.49 545.62l6.85 6.85l-6.85 6.85l-6.85 -6.85zM1725.53 546.28l6.85 6.85l-6.85 6.85l-6.85 -6.85zM1742.57 546.95l6.85 6.85l-6.85 6.85l-6.85 -6.85zM1759.62 547.55l6.85 6.85l-6.85 6.85l-6.85 -6.85zM1776.66 548.15l6.85 6.85l-6.85 6.85l-6.85 -6.85zM1793.7 548.75l6.85 6.85l-6.85 6.85l-6.85 -6.85z" fill="none" stroke="#F9147F" stroke-width="3.45" stroke-linejoin="miter"/>
<path d="M958.62 183.75l7.55 7.55l-7.55 7.55l-7.55 -7.55zM975.66 204.25l7.55 7.55l-7.55 7.55l-7.55 -7.55zM992.71 227.05l7.55 7.55l-7.55 7.55l-7.55 -7.55zM1009.75 242.15l7.55 7.55l-7.55 7.55l-7.55 -7.55zM1026.79 252.25l7.55 7.55l-7.55 7.55l-7.55 -7.55zM1043.83 269.05l7.55 7.55l-7.55 7.55l-7.55 -7.55zM1060.88 285.45l7.55 7.55l-7.55 7.55l-7.55 -7.55zM1077.92 300.45l7.55 7.55l-7.55 7.55l-7.55 -7.55zM1094.96 314.45l7.55 7.55l-7.55 7.55l-7.55 -7.55zM1112 327.45l7.55 7.55l-7.55 7.55l-7.55 -7.55zM1129.05 339.95l7.55 7.55l-7.55 7.55l-7.55 -7.55zM1146.09 351.45l7.55 7.55l-7.55 7.55l-7.55 -7.55zM1163.13 362.05l7.55 7.55l-7.55 7.55l-7.55 -7.55zM1180.17 372.45l7.55 7.55l-7.55 7.55l-7.55 -7.55zM1197.22 381.75l7.55 7.55l-7.55 7.55l-7.55 -7.55zM1214.26 391.25l7.55 7.55l-7.55 7.55l-7.55 -7.55zM1231.3 399.45l7.55 7.55l-7.55 7.55l-7.55 -7.55zM1248.34 407.45l7.55 7.55l-7.55 7.55l-7.55 -7.55zM1265.38 415.05l7.55 7.55l-7.55 7.55l-7.55 -7.55zM1282.43 422.05l7.55 7.55l-7.55 7.55l-7.55 -7.55zM1299.47 428.75l7.55 7.55l-7.55 7.55l-7.55 -7.55zM1316.51 435.05l7.55 7.55l-7.55 7.55l-7.55 -7.55zM1333.55 441.25l7.55 7.55l-7.55 7.55l-7.55 -7.55zM1350.6 447.05l7.55 7.55l-7.55 7.55l-7.55 -7.55zM1367.64 453.08l7.55 7.55l-7.55 7.55l-7.55 -7.55zM1384.68 458.08l7.55 7.55l-7.55 7.55l-7.55 -7.55zM1401.72 463.09l7.55 7.55l-7.55 7.55l-7.55 -7.55zM1418.77 467.59l7.55 7.55l-7.55 7.55l-7.55 -7.55zM1435.81 471.84l7.55 7.55l-7.55 7.55l-7.55 -7.55zM1452.85 476.09l7.55 7.55l-7.55 7.55l-7.55 -7.55zM1469.89 479.84l7.55 7.55l-7.55 7.55l-7.55 -7.55zM1486.94 483.6l7.55 7.55l-7.55 7.55l-7.55 -7.55zM1503.98 487.35l7.55 7.55l-7.55 7.55l-7.55 -7.55zM1521.02 490.6l7.55 7.55l-7.55 7.55l-7.55 -7.55zM1538.06 493.85l7.55 7.55l-7.55 7.55l-7.55 -7.55zM1555.11 496.85l7.55 7.55l-7.55 7.55l-7.55 -7.55zM1572.15 499.35l7.55 7.55l-7.55 7.55l-7.55 -7.55zM1589.19 502.35l7.55 7.55l-7.55 7.55l-7.55 -7.55zM1606.23 504.86l7.55 7.55l-7.55 7.55l-7.55 -7.55zM1623.28 506.86l7.55 7.55l-7.55 7.55l-7.55 -7.55zM1640.32 509.36l7.55 7.55l-7.55 7.55l-7.55 -7.55zM1657.36 511.11l7.55 7.55l-7.55 7.55l-7.55 -7.55zM1674.4 513.11l7.55 7.55l-7.55 7.55l-7.55 -7.55zM1691.45 514.86l7.55 7.55l-7.55 7.55l-7.55 -7.55zM1708.49 516.86l7.55 7.55l-7.55 7.55l-7.55 -7.55zM1725.53 518.61l7.55 7.55l-7.55 7.55l-7.55 -7.55zM1742.57 520.11l7.55 7.55l-7.55 7.55l-7.55 -7.55zM1759.62 521.86l7.55 7.55l-7.55 7.55l-7.55 -7.55zM1776.66 523.12l7.55 7.55l-7.55 7.55l-7.55 -7.55zM1793.7 524.37l7.55 7.55l-7.55 7.55l-7.55 -7.55z" fill="#F9147F"/>
<path d="M958.62 524.69l7.1 14.1h-14.2zM975.66 523.19l7.1 14.1h-14.2zM992.71 524.94l7.1 14.1h-14.2zM1009.75 522.44l7.1 14.1h-14.2zM1026.79 518.44l7.1 14.1h-14.2zM1043.83 516.94l7.1 14.1h-14.2zM1060.88 519.19l7.1 14.1h-14.2zM1077.92 519.69l7.1 14.1h-14.2zM1094.96 519.69l7.1 14.1h-14.2zM1112 519.94l7.1 14.1h-14.2zM1129.05 515.19l7.1 14.1h-14.2zM1146.09 513.69l7.1 14.1h-14.2zM1163.13 514.19l7.1 14.1h-14.2zM1180.17 514.44l7.1 14.1h-14.2zM1197.22 514.56l7.1 14.1h-14.2zM1214.26 514.69l7.1 14.1h-14.2zM1231.3 514.69l7.1 14.1h-14.2zM1248.34 514.94l7.1 14.1h-14.2zM1265.38 514.94l7.1 14.1h-14.2zM1282.43 515.19l7.1 14.1h-14.2zM1299.47 515.44l7.1 14.1h-14.2zM1316.51 515.69l7.1 14.1h-14.2zM1333.55 515.94l7.1 14.1h-14.2zM1350.6 516.44l7.1 14.1h-14.2zM1367.64 516.69l7.1 14.1h-14.2zM1384.68 516.94l7.1 14.1h-14.2zM1401.72 517.19l7.1 14.1h-14.2zM1418.77 517.79l7.1 14.1h-14.2zM1435.81 518.4l7.1 14.1h-14.2zM1452.85 519.01l7.1 14.1h-14.2zM1469.89 519.62l7.1 14.1h-14.2zM1486.94 520.22l7.1 14.1h-14.2zM1503.98 520.83l7.1 14.1h-14.2zM1521.02 521.44l7.1 14.1h-14.2zM1538.06 522.04l7.1 14.1h-14.2zM1555.11 522.65l7.1 14.1h-14.2zM1572.15 523.26l7.1 14.1h-14.2zM1589.19 523.87l7.1 14.1h-14.2zM1606.23 524.47l7.1 14.1h-14.2zM1623.28 525.08l7.1 14.1h-14.2zM1640.32 525.69l7.1 14.1h-14.2zM1657.36 526.29l7.1 14.1h-14.2zM1674.4 526.9l7.1 14.1h-14.2zM1691.45 527.51l7.1 14.1h-14.2zM1708.49 528.11l7.1 14.1h-14.2zM1725.53 528.72l7.1 14.1h-14.2zM1742.57 529.33l7.1 14.1h-14.2zM1759.62 529.94l7.1 14.1h-14.2zM1776.66 530.54l7.1 14.1h-14.2zM1793.7 531.15l7.1 14.1h-14.2z" fill="none" stroke="#A0004E" stroke-width="3.45" stroke-linejoin="bevel"/>
<path d="M958.62 186.63l7.65 15.1h-15.3zM975.66 189.38l7.65 15.1h-15.3zM992.71 186.63l7.65 15.1h-15.3zM1009.75 179.37l7.65 15.1h-15.3zM1026.79 181.37l7.65 15.1h-15.3zM1043.83 181.37l7.65 15.1h-15.3zM1060.88 182.12l7.65 15.1h-15.3zM1077.92 183.63l7.65 15.1h-15.3zM1094.96 185.38l7.65 15.1h-15.3zM1112 187.13l7.65 15.1h-15.3zM1129.05 188.38l7.65 15.1h-15.3zM1146.09 190.38l7.65 15.1h-15.3zM1163.13 192.38l7.65 15.1h-15.3zM1180.17 194.38l7.65 15.1h-15.3zM1197.22 196.38l7.65 15.1h-15.3zM1214.26 198.38l7.65 15.1h-15.3zM1231.3 200.38l7.65 15.1h-15.3zM1248.34 202.39l7.65 15.1h-15.3zM1265.38 205.14l7.65 15.1h-15.3zM1282.43 207.39l7.65 15.1h-15.3zM1299.47 210.14l7.65 15.1h-15.3zM1316.51 212.64l7.65 15.1h-15.3zM1333.55 215.14l7.65 15.1h-15.3zM1350.6 218.14l7.65 15.1h-15.3zM1367.64 221.82l7.65 15.1h-15.3zM1384.68 224.83l7.65 15.1h-15.3zM1401.72 227.83l7.65 15.1h-15.3zM1418.77 231.58l7.65 15.1h-15.3zM1435.81 235.33l7.65 15.1h-15.3zM1452.85 238.83l7.65 15.1h-15.3zM1469.89 242.34l7.65 15.1h-15.3zM1486.94 246.59l7.65 15.1h-15.3zM1503.98 250.59l7.65 15.1h-15.3zM1521.02 254.59l7.65 15.1h-15.3zM1538.06 258.59l7.65 15.1h-15.3zM1555.11 262.85l7.65 15.1h-15.3zM1572.15 267.35l7.65 15.1h-15.3zM1589.19 271.6l7.65 15.1h-15.3zM1606.23 276.1l7.65 15.1h-15.3zM1623.28 280.6l7.65 15.1h-15.3zM1640.32 285.36l7.65 15.1h-15.3zM1657.36 289.86l7.65 15.1h-15.3zM1674.4 294.86l7.65 15.1h-15.3zM1691.45 299.86l7.65 15.1h-15.3zM1708.49 304.87l7.65 15.1h-15.3zM1725.53 309.87l7.65 15.1h-15.3zM1742.57 314.87l7.65 15.1h-15.3zM1759.62 319.87l7.65 15.1h-15.3zM1776.66 324.88l7.65 15.1h-15.3zM1793.7 329.38l7.65 15.1h-15.3z" fill="#A0004E"/>
<path d="M951.65 65.01a6.97 6.97 0 1 0 13.95 0a6.97 6.97 0 1 0 -13.95 0zM968.69 65.01a6.97 6.97 0 1 0 13.95 0a6.97 6.97 0 1 0 -13.95 0zM985.73 69.26a6.97 6.97 0 1 0 13.95 0a6.97 6.97 0 1 0 -13.95 0zM1002.77 80.02a6.97 6.97 0 1 0 13.95 0a6.97 6.97 0 1 0 -13.95 0zM1019.82 88.77a6.97 6.97 0 1 0 13.95 0a6.97 6.97 0 1 0 -13.95 0zM1036.86 98.03a6.97 6.97 0 1 0 13.95 0a6.97 6.97 0 1 0 -13.95 0zM1053.9 107.03a6.97 6.97 0 1 0 13.95 0a6.97 6.97 0 1 0 -13.95 0zM1070.94 115.79a6.97 6.97 0 1 0 13.95 0a6.97 6.97 0 1 0 -13.95 0zM1087.99 124.54a6.97 6.97 0 1 0 13.95 0a6.97 6.97 0 1 0 -13.95 0zM1105.03 132.55a6.97 6.97 0 1 0 13.95 0a6.97 6.97 0 1 0 -13.95 0zM1122.07 140.8a6.97 6.97 0 1 0 13.95 0a6.97 6.97 0 1 0 -13.95 0zM1139.11 149.3a6.97 6.97 0 1 0 13.95 0a6.97 6.97 0 1 0 -13.95 0zM1156.16 157.06a6.97 6.97 0 1 0 13.95 0a6.97 6.97 0 1 0 -13.95 0zM1173.2 165.06a6.97 6.97 0 1 0 13.95 0a6.97 6.97 0 1 0 -13.95 0zM1190.24 173.07a6.97 6.97 0 1 0 13.95 0a6.97 6.97 0 1 0 -13.95 0zM1207.28 180.07a6.97 6.97 0 1 0 13.95 0a6.97 6.97 0 1 0 -13.95 0zM1224.33 187.57a6.97 6.97 0 1 0 13.95 0a6.97 6.97 0 1 0 -13.95 0zM1241.37 195.08a6.97 6.97 0 1 0 13.95 0a6.97 6.97 0 1 0 -13.95 0zM1258.41 202.58a6.97 6.97 0 1 0 13.95 0a6.97 6.97 0 1 0 -13.95 0zM1275.45 210.09a6.97 6.97 0 1 0 13.95 0a6.97 6.97 0 1 0 -13.95 0zM1292.49 216.84a6.97 6.97 0 1 0 13.95 0a6.97 6.97 0 1 0 -13.95 0zM1309.54 223.09a6.97 6.97 0 1 0 13.95 0a6.97 6.97 0 1 0 -13.95 0zM1326.58 230.1a6.97 6.97 0 1 0 13.95 0a6.97 6.97 0 1 0 -13.95 0zM1343.62 236.35a6.97 6.97 0 1 0 13.95 0a6.97 6.97 0 1 0 -13.95 0zM1360.66 242.53a6.97 6.97 0 1 0 13.95 0a6.97 6.97 0 1 0 -13.95 0zM1377.71 248.78a6.97 6.97 0 1 0 13.95 0a6.97 6.97 0 1 0 -13.95 0zM1394.75 255.04a6.97 6.97 0 1 0 13.95 0a6.97 6.97 0 1 0 -13.95 0zM1411.79 261.29a6.97 6.97 0 1 0 13.95 0a6.97 6.97 0 1 0 -13.95 0zM1428.83 267.04a6.97 6.97 0 1 0 13.95 0a6.97 6.97 0 1 0 -13.95 0zM1445.88 272.55a6.97 6.97 0 1 0 13.95 0a6.97 6.97 0 1 0 -13.95 0zM1462.92 278.3a6.97 6.97 0 1 0 13.95 0a6.97 6.97 0 1 0 -13.95 0zM1479.96 283.8a6.97 6.97 0 1 0 13.95 0a6.97 6.97 0 1 0 -13.95 0zM1497 289.3a6.97 6.97 0 1 0 13.95 0a6.97 6.97 0 1 0 -13.95 0zM1514.05 294.31a6.97 6.97 0 1 0 13.95 0a6.97 6.97 0 1 0 -13.95 0zM1531.09 300.06a6.97 6.97 0 1 0 13.95 0a6.97 6.97 0 1 0 -13.95 0zM1548.13 305.06a6.97 6.97 0 1 0 13.95 0a6.97 6.97 0 1 0 -13.95 0zM1565.17 310.07a6.97 6.97 0 1 0 13.95 0a6.97 6.97 0 1 0 -13.95 0zM1582.22 315.57a6.97 6.97 0 1 0 13.95 0a6.97 6.97 0 1 0 -13.95 0zM1599.26 320.07a6.97 6.97 0 1 0 13.95 0a6.97 6.97 0 1 0 -13.95 0zM1616.3 325.07a6.97 6.97 0 1 0 13.95 0a6.97 6.97 0 1 0 -13.95 0zM1633.34 329.57a6.97 6.97 0 1 0 13.95 0a6.97 6.97 0 1 0 -13.95 0zM1650.39 334.58a6.97 6.97 0 1 0 13.95 0a6.97 6.97 0 1 0 -13.95 0zM1667.43 339.33a6.97 6.97 0 1 0 13.95 0a6.97 6.97 0 1 0 -13.95 0zM1684.47 343.83a6.97 6.97 0 1 0 13.95 0a6.97 6.97 0 1 0 -13.95 0zM1701.51 348.33a6.97 6.97 0 1 0 13.95 0a6.97 6.97 0 1 0 -13.95 0zM1718.56 353.09a6.97 6.97 0 1 0 13.95 0a6.97 6.97 0 1 0 -13.95 0zM1735.6 357.84a6.97 6.97 0 1 0 13.95 0a6.97 6.97 0 1 0 -13.95 0zM1752.64 362.59a6.97 6.97 0 1 0 13.95 0a6.97 6.97 0 1 0 -13.95 0zM1769.68 367.09a6.97 6.97 0 1 0 13.95 0a6.97 6.97 0 1 0 -13.95 0zM1786.73 371.35a6.97 6.97 0 1 0 13.95 0a6.97 6.97 0 1 0 -13.95 0z" fill="none" stroke="#000080" stroke-width="3.45"/>
</g>
<g class="ax" id="inset-axes">
<path stroke-width="3.9" d="M950.1 44.55V758.85"/>
<path stroke-width="3.9" d="M950.1 749H1795.15"/>
<path stroke-width="3.9" d="M1077.07 749v5.35M1151.35 749v5.35M1204.05 749v5.35M1244.93 749v5.35M1278.32 749v5.35M1306.56 749v5.35M1331.02 749v5.35M1352.6 749v5.35M1371.9 749v9.85M1498.87 749v5.35M1573.15 749v5.35M1625.85 749v5.35M1666.73 749v5.35M1700.12 749v5.35M1728.36 749v5.35M1752.82 749v5.35M1774.4 749v5.35M1793.7 749v9.85M950.1 749h-9.65M950.1 581.6h-9.65M950.1 414.2h-9.65M950.1 246.8h-9.65M950.1 79.4h-9.65"/>
</g>
<text transform="translate(0 1327.1) scale(1 1.035)" y="0" font-size="52.6" class="t-sansb"><tspan x="224.1">0</tspan></text>
<text transform="translate(0 915.5) scale(1 1.035)" y="0" font-size="52.6" class="t-sansb"><tspan x="147.11 185.61 224.1">500</tspan></text>
<text transform="translate(0 503.9) scale(1 1.035)" y="0" font-size="52.6" class="t-sansb"><tspan x="108.61 147.11 185.61 224.1">1000</tspan></text>
<text transform="translate(0 92.3) scale(1 1.035)" y="0" font-size="52.6" class="t-sansb"><tspan x="108.61 147.11 185.61 224.1">1500</tspan></text>
<text transform="translate(0 1394.2) scale(1 1.035)" y="0" font-size="52.6" class="t-sansb"><tspan x="237.62 276.9 296.53">0.1</tspan></text>
<text transform="translate(0 1394.2) scale(1 1.035)" y="0" font-size="52.6" class="t-sansb"><tspan x="635.6">1</tspan></text>
<text transform="translate(0 1394.2) scale(1 1.035)" y="0" font-size="52.6" class="t-sansb"><tspan x="987.4 1027.4">10</tspan></text>
<text transform="translate(0 1394.2) scale(1 1.035)" y="0" font-size="52.6" class="t-sansb"><tspan x="1338.5 1378.3 1418.1">100</tspan></text>
<text transform="translate(0 1394.2) scale(1 1.035)" y="0" font-size="52.6" class="t-sansb"><tspan x="1690.3 1729.77 1769.23 1808.7">1000</tspan></text>
<text transform="translate(0 79.1) scale(1 1.04)" y="0" font-size="58.8" class="t-sansb"><tspan x="483.16 528.59 571.82 593.42 624.79">25 °C</tspan></text>
<text y="1512.6" font-size="59.4" class="t-sansb"><tspan x="751.49 802.35 848.68 895.46 938.48 969.52 991.68 1022.66 1066.57 1092.38 1136.77 1158.94 1183.01">Shear rate (s</tspan><tspan x="1228.7 1241" y="1479.1" font-size="41">-1</tspan><tspan x="1278.64" y="1512.6">)</tspan></text>
<text transform="translate(76.4 1030) rotate(-90)" y="0" font-size="59.4" class="t-sansb"><tspan x="-0.41 50.85 72.41 115.98 159.18 206.71 249.85 271.97 297.14 341.97">Viscosity </tspan><tspan x="362.78" textLength="34.48" lengthAdjust="spacingAndGlyphs" font-family='"Liberation Serif", serif' font-weight="normal">η</tspan><tspan x="410.72 435.34 460.68 530.43 581.36 624.27 645.51 690.14"> (mPa.s)</tspan></text>
<text transform="translate(0 762.6) scale(1 1.035)" y="0" font-size="29.8" class="t-sansb"><tspan x="913.65">0</tspan></text>
<text transform="translate(0 595.2) scale(1 1.035)" y="0" font-size="29.8" class="t-sansb"><tspan x="892.1 913.65">50</tspan></text>
<text transform="translate(0 427.8) scale(1 1.035)" y="0" font-size="29.8" class="t-sansb"><tspan x="870.56 892.1 913.65">100</tspan></text>
<text transform="translate(0 260.4) scale(1 1.035)" y="0" font-size="29.8" class="t-sansb"><tspan x="870.56 892.1 913.65">150</tspan></text>
<text transform="translate(0 93) scale(1 1.035)" y="0" font-size="29.8" class="t-sansb"><tspan x="870.56 892.1 913.65">200</tspan></text>
<text transform="translate(0 801.2) scale(1 1.035)" y="0" font-size="29.8" class="t-sansb"><tspan x="927.18 949.75">10</tspan></text>
<text transform="translate(0 801.2) scale(1 1.035)" y="0" font-size="29.8" class="t-sansb"><tspan x="1338.28 1361.11 1383.95">100</tspan></text>
<text transform="translate(0 801.2) scale(1 1.035)" y="0" font-size="29.8" class="t-sansb"><tspan x="1749.08 1771.5 1793.92 1816.35">1000</tspan></text>
<text y="869.1" font-size="34.6" class="t-sansb"><tspan x="1215.26 1243.11 1271.18 1297.04 1322.03 1339.25 1351.55 1369.07 1394.17 1408.75 1434.03 1446.65 1460.16">Shear rate (s</tspan><tspan x="1486.75 1495.85" y="849.3" font-size="23">-1</tspan><tspan x="1515.87" y="869.1">)</tspan></text>
<text transform="translate(852.5 594.4) rotate(-90)" y="0" font-size="34.6" class="t-sansb"><tspan x="-0.24 29.64 42.08 66.99 91.89 119.25 144.16 156.6 171.52 196.43">Viscosity </tspan><tspan x="207.94" textLength="20.08" lengthAdjust="spacingAndGlyphs" font-family='"Liberation Serif", serif' font-weight="normal">η</tspan><tspan x="232.29 244.73 259.65 299.47 329.34 354.25 366.69 391.6"> (mPa.s)</tspan></text>
<text transform="translate(0 1660.8) scale(1 1.04)" y="0" font-size="45.5" class="t-sansb"><tspan x="446.46">F</tspan></text>
<text y="1660.8" font-size="39.7" class="t-sansb"><tspan x="500.02 517.67 555.95 585.43 606.06 638.43 670.81 703.19 735.57 750.29 765.02 794.5 809.22 838.7 853.43 900.56">(Carbopol 0.1 %)</tspan></text>
<text transform="translate(0 1738.8) scale(1 1.04)" y="0" font-size="45.5" class="t-sansb"><tspan x="446.46">H</tspan></text>
<text y="1738.8" font-size="39.7" class="t-sansb"><tspan x="502.32 519.71 554.52 586.41 618.3 632.8 664.69 711.1 725.61 754.64 769.14 801.03 815.53 847.42 876.45 893.84 922.87 937.37 966.4 980.91 1009.94 1024.44 1070.86">(Sodium alginate 0.1 %)</tspan></text>
<text transform="translate(0 1821.4) scale(1 1.04)" y="0" font-size="45.5" class="t-sansb"><tspan x="446.81">J</tspan></text>
<text y="1821.4" font-size="39.7" class="t-sansb"><tspan x="496.82 514.37 549.52 578.83 611.02 628.57 660.76 690.07 722.26 736.91 769.1 801.29 848.15 862.79 892.1 906.74 936.05 965.36 980 1026.86">(Xanthan gum 0.05 %)</tspan></text>
<text transform="translate(0 1660.8) scale(1 1.04)" y="0" font-size="45.5" class="t-sansb"><tspan x="1051.56">D</tspan></text>
<text y="1660.8" font-size="39.7" class="t-sansb"><tspan x="1111.92 1129.24 1178.34 1192.79 1210.11 1241.89 1273.66 1305.43 1322.76 1337.21 1383.46 1415.23 1444.16 1475.93 1504.86 1536.64 1568.41 1597.34 1626.27 1640.72 1669.65 1698.58 1713.03 1741.96 1773.73 1802.66 1834.44 1851.76">(Without mucoadhesive agent)</tspan></text>
<text transform="translate(0 1738.8) scale(1 1.04)" y="0" font-size="45.5" class="t-sansb"><tspan x="1230.36">I</tspan></text>
<text y="1738.8" font-size="39.7" class="t-sansb"><tspan x="1261.92 1279.26 1313.99 1345.79 1377.59 1392.06 1423.86 1470.15 1484.62 1513.57 1528.04 1559.84 1574.31 1606.11 1635.06 1652.4 1681.36 1695.82 1724.78 1739.24 1768.2 1782.66 1828.96">(Sodium alginate 0.5 %)</tspan></text>
<text transform="translate(0 1821.4) scale(1 1.04)" y="0" font-size="45.5" class="t-sansb"><tspan x="1230.36">K</tspan></text>
<text y="1821.4" font-size="39.7" class="t-sansb"><tspan x="1290.22 1307.79 1342.98 1372.32 1404.54 1422.11 1454.33 1483.67 1515.89 1530.55 1562.77 1595 1641.9 1656.56 1685.9 1700.56 1729.89 1744.55 1791.46">(Xanthan gum 0.1 %)</tspan></text>
<path d="M362.7 1638.9a12.7 12.7 0 1 0 25.4 0a12.7 12.7 0 1 0 -25.4 0z" fill="none" stroke="#000080" stroke-width="6"/>
<path d="M375.4 1704.5l12.35 25.2h-24.7z" fill="none" stroke="#A0004E" stroke-width="6" stroke-linejoin="bevel"/>
<path d="M375.4 1786l12.6 12.6l-12.6 12.6l-12.6 -12.6z" fill="none" stroke="#F9147F" stroke-width="6" stroke-linejoin="miter"/>
<path d="M968.1 1625.9h26v26h-26z" fill="#000000"/>
<path d="M1160 1703.85l13.15 26h-26.3z" fill="#A0004E"/>
<path d="M1160 1785.45l13.15 13.15l-13.15 13.15l-13.15 -13.15z" fill="#F9147F"/>
<text class="t-serifb" font-size="77.9" y="2001.1"><tspan x="913.98" y="1994.5" font-size="68.8">(</tspan><tspan x="937.95" y="2001.1" textLength="46.28" lengthAdjust="spacingAndGlyphs">B</tspan><tspan x="987.18" y="1994.5" font-size="68.8">)</tspan></text>
</svg>
</body></html>
